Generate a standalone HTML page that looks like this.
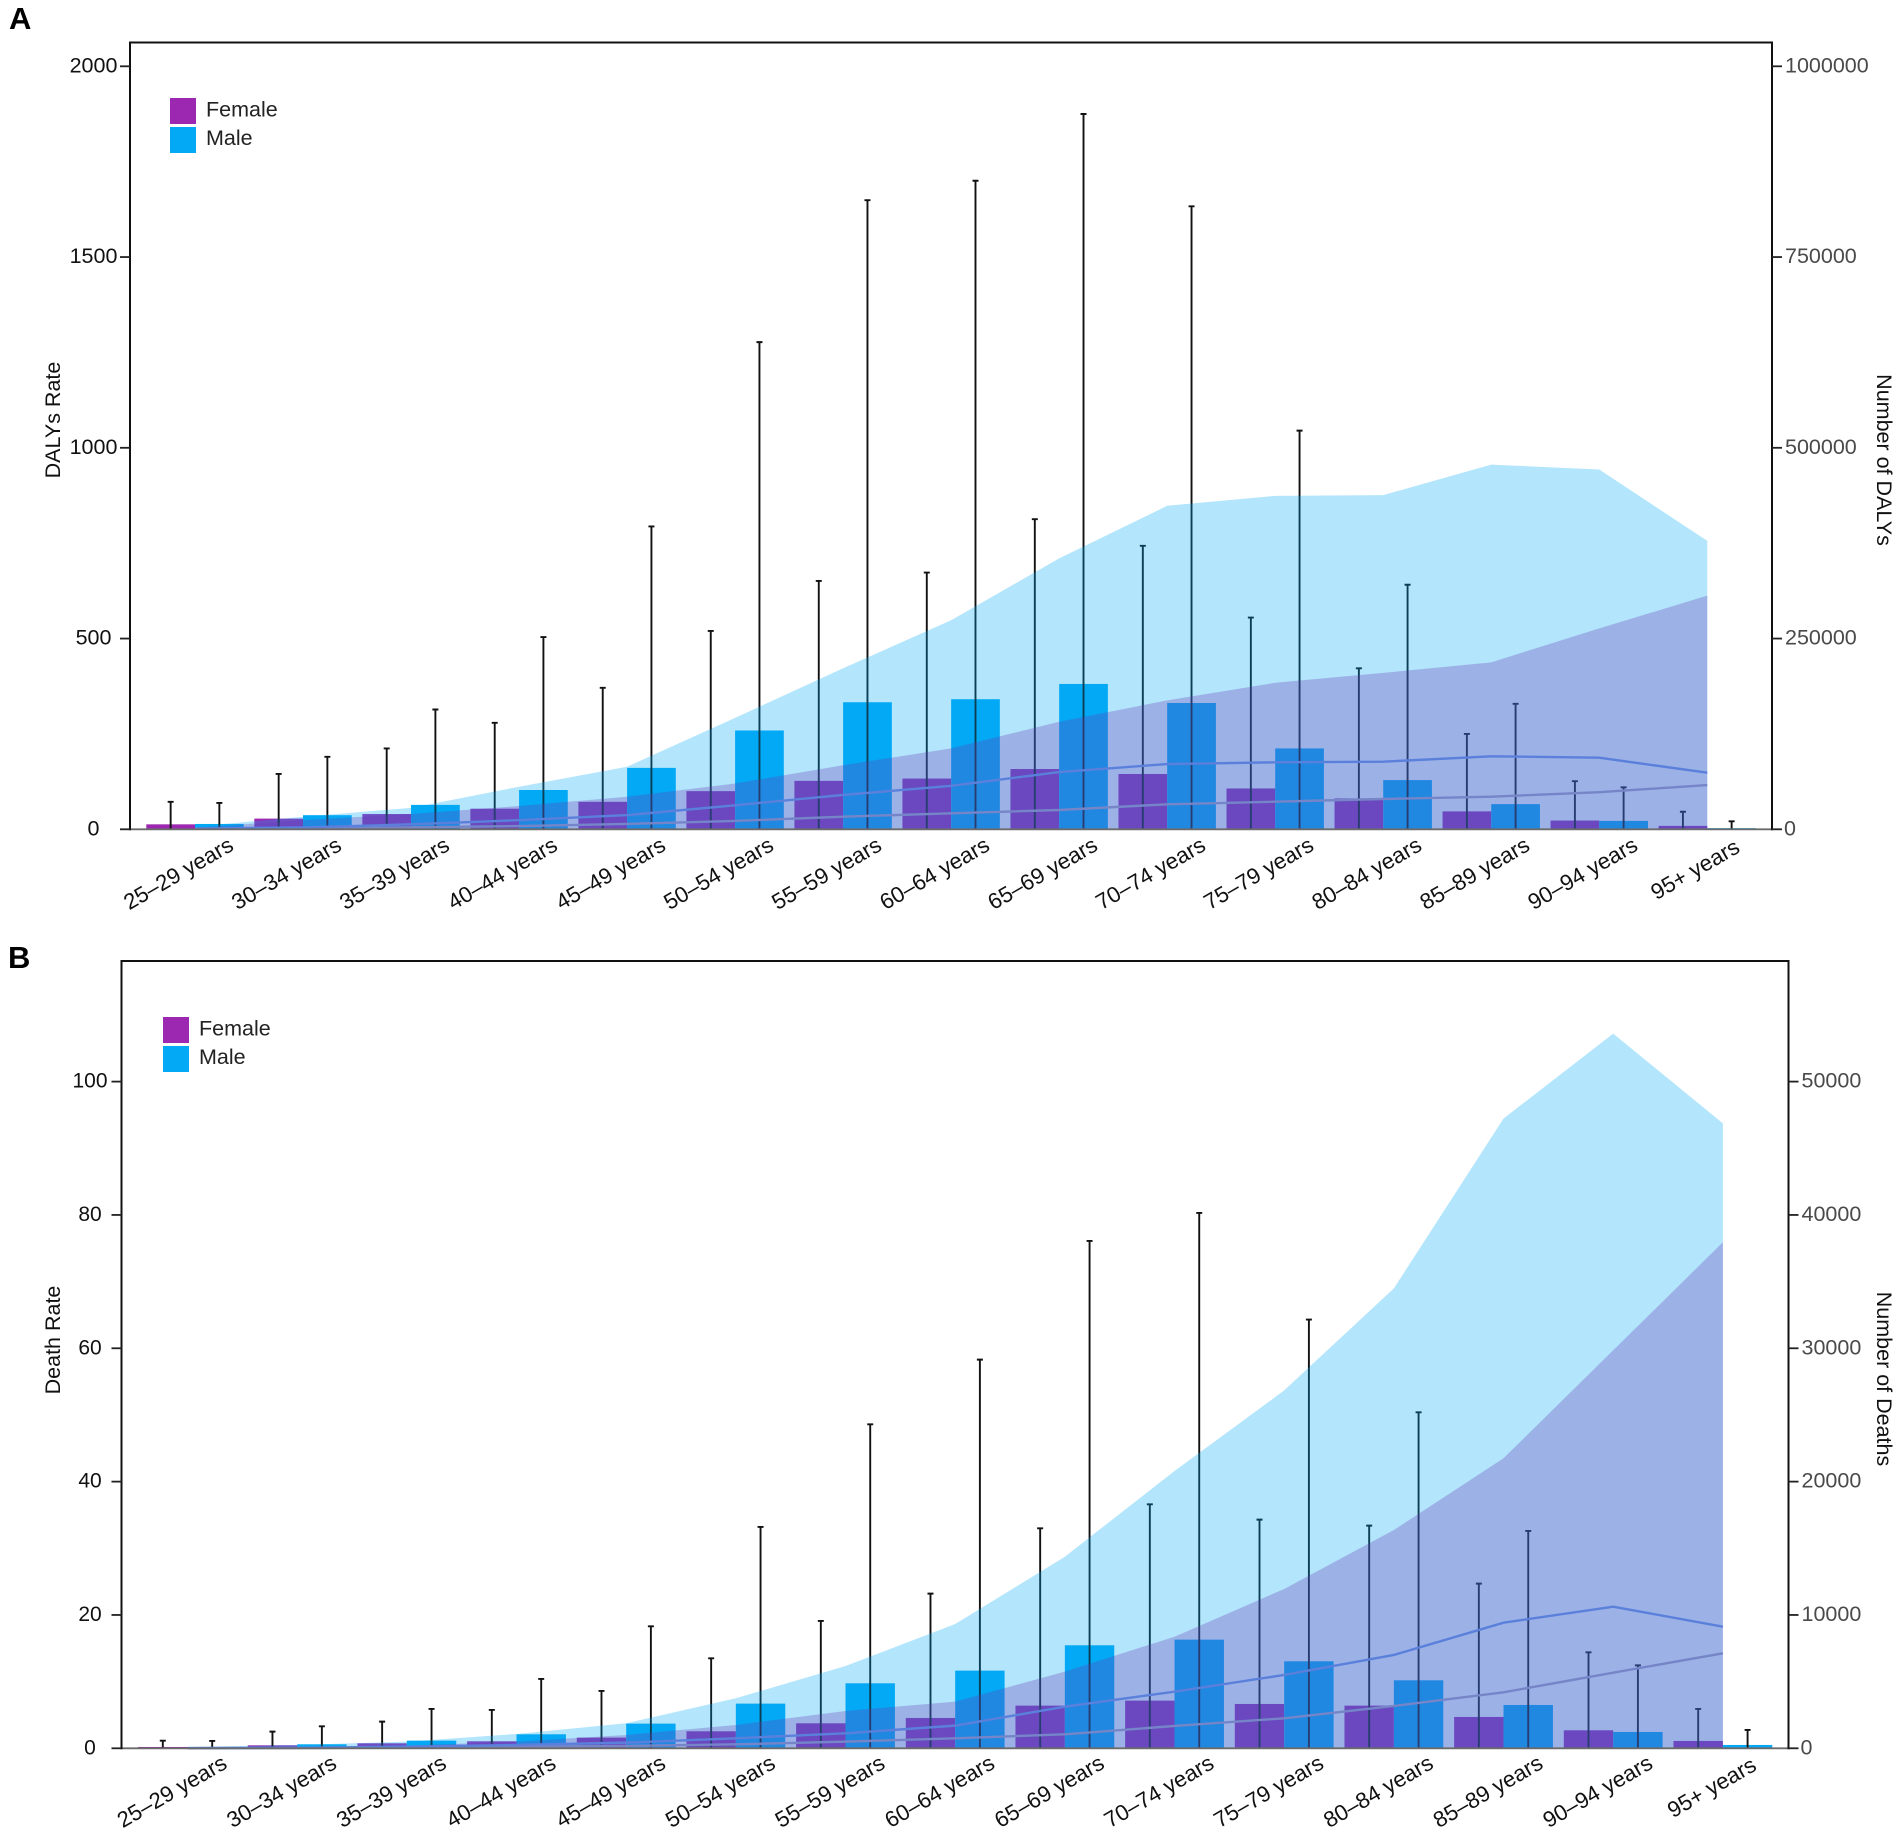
<!DOCTYPE html>
<html lang="en">
<head>
<meta charset="utf-8">
<title>DALYs and deaths by age group and sex</title>
<style>
  html, body { margin: 0; padding: 0; background: #fff; }
  body { width: 1902px; height: 1840px; overflow: hidden; }
  svg { display: block; font-family: "Liberation Sans", Arial, sans-serif; }
</style>
</head>
<body>
<svg id="figure" xmlns="http://www.w3.org/2000/svg" width="1902" height="1840" viewBox="0 0 1902 1840"></svg>
<script>
// ---- Shared categories ----
const ageGroups = ["25–29 years","30–34 years","35–39 years","40–44 years","45–49 years","50–54 years","55–59 years","60–64 years","65–69 years","70–74 years","75–79 years","80–84 years","85–89 years","90–94 years","95+ years"];
const legendLabels = ["Female","Male"];

// ---- Panel A: DALYs ----
const dalyLeftTicks = [0,500,1000,1500,2000];
const dalyRightTicks = [0,250000,500000,750000,1000000];
const dalyFemaleRate = [13,28,40,54,72,100,127,133,158,145,107,81,47,23,9];
const dalyMaleRate = [14,37,64,103,161,259,333,341,381,331,212,129,66,22,3];
const dalyFemaleUpper = [72,145,212,279,371,520,651,673,813,743,555,422,250,126,46];
const dalyMaleUpper = [69,190,314,504,794,1277,1649,1700,1875,1633,1045,641,329,110,21];
const dalyMaleArea = [3400,16500,28000,55800,82000,146000,211000,274000,355000,424000,437000,438000,478000,471500,378000];
const dalyFemaleArea = [2000,12000,20000,30500,42700,60000,84000,106000,141000,169000,192000,205000,218800,263300,306200];
const dalyMaleLine = [1000,2500,6500,12000,18600,31500,45000,57000,75000,85500,87800,88600,95700,93800,74200];
const dalyFemaleLine = [900,1500,2600,4300,7000,11000,16500,21000,25300,32800,36200,39700,42700,48600,58000];

// ---- Panel B: Deaths ----
const deathLeftTicks = [0,20,40,60,80,100];
const deathRightTicks = [0,10000,20000,30000,40000,50000];
const deathFemaleRate = [0.2,0.45,0.75,1.05,1.6,2.55,3.75,4.55,6.4,7.15,6.65,6.4,4.7,2.7,1.1];
const deathMaleRate = [0.2,0.6,1.15,2.1,3.7,6.7,9.75,11.65,15.45,16.3,13.05,10.2,6.5,2.45,0.5];
const deathFemaleUpper = [1.14,2.5,4,5.75,8.6,13.5,19.1,23.2,33,36.6,34.3,33.4,24.7,14.4,5.9];
const deathMaleUpper = [1.1,3.3,5.9,10.4,18.3,33.2,48.6,58.3,76.1,80.3,64.3,50.4,32.6,12.45,2.75];
const deathMaleArea = [100,250,500,1075,1875,3750,6170,9320,14370,20800,26840,34490,47230,53600,46870];
const deathFemaleArea = [30,90,200,500,1000,1750,2800,3500,5750,8370,11950,16370,21750,29850,37950];
const deathMaleLine = [15,40,120,250,425,750,1125,1700,3125,4250,5500,7000,9420,10620,9120];
const deathFemaleLine = [10,20,60,125,175,300,500,750,1050,1675,2250,3175,4200,5670,7125];

const NS = "http://www.w3.org/2000/svg";
const svg = document.getElementById("figure");

function make(tag, attrs, parent) {
  const node = document.createElementNS(NS, tag);
  for (const k in attrs) node.setAttribute(k, attrs[k]);
  parent.appendChild(node);
  return node;
}

function drawPanel(p) {
  const root = make("g", {}, svg);
  
  

  const yL = v => p.y0 - (v / p.leftMax) * (p.y0 - p.yTop);
  const yR = v => p.y0 - (v / p.rightMax) * (p.y0 - p.yTop);
  const xC = i => p.x0 + p.step * i;

  let el;

  // Panel letter
  el = make("text", {x: p.letterX, y: p.letterY, "font-size": 31, "font-weight": "bold", fill: "#000"}, root);
  el.textContent = p.letter;
  
  

  // Bars (underneath the translucent areas)
  ageGroups.forEach((g, i) => {
    el = make("rect", {x: xC(i) - p.barW, y: yL(p.femaleRate[i]), width: p.barW, height: p.y0 - yL(p.femaleRate[i]), fill: "#9c27b0"}, root);
    
    
    el = make("rect", {x: xC(i), y: yL(p.maleRate[i]), width: p.barW, height: p.y0 - yL(p.maleRate[i]), fill: "#03a9f4"}, root);
    
    
  });

  // Error bars
  ageGroups.forEach((g, i) => {
    [[xC(i) - p.barW / 2, p.femaleUpper[i], "female"], [xC(i) + p.barW / 2, p.maleUpper[i], "male"]].forEach(e => {
      el = make("path", {d: "M" + e[0] + " " + p.y0 + "V" + yL(e[1]) + "M" + (e[0] - 3) + " " + yL(e[1]) + "H" + (e[0] + 3), stroke: "#111", "stroke-width": 1.9, fill: "none"}, root);
      
      
    });
  });

  // Areas
  const areaPath = arr => "M" + xC(0) + " " + p.y0 + arr.map((v, i) => "L" + xC(i) + " " + yR(v)).join("") + "L" + xC(arr.length - 1) + " " + p.y0 + "Z";
  el = make("path", {d: areaPath(p.maleArea), fill: "#03a9f4", "fill-opacity": 0.3}, root);
  
  
  el = make("path", {d: areaPath(p.femaleArea), fill: "#673ab7", "fill-opacity": 0.3}, root);
  
  

  // Lines
  const linePath = arr => arr.map((v, i) => (i ? "L" : "M") + xC(i) + " " + yR(v)).join("");
  el = make("path", {d: linePath(p.femaleLine), fill: "none", stroke: "#7585c8", "stroke-width": 2.4}, root);
  
  
  el = make("path", {d: linePath(p.maleLine), fill: "none", stroke: "#5b80db", "stroke-width": 2.4}, root);
  
  

  // Baseline
  el = make("line", {x1: p.xL, x2: p.xR, y1: p.y0, y2: p.y0, stroke: "#6b6b6b", "stroke-width": 1.8}, root);
  
  

  // Frame: left, top and right sides
  el = make("path", {d: "M" + p.xL + " " + (p.y0 + 1) + "V" + p.frameTop + "H" + p.xR + "V" + (p.y0 + 1), fill: "none", stroke: "#111", "stroke-width": 2}, root);
  
  

  // Left ticks
  p.leftTicks.forEach(t => {
    el = make("line", {x1: p.xL - 10, x2: p.xL, y1: yL(t), y2: yL(t), stroke: "#222", "stroke-width": 1.8}, root);
    
    
    el = make("text", {x: p.leftLabelX, y: yL(t) + 6, "text-anchor": "middle", "font-size": p.leftFont, fill: "#111"}, root);
    el.textContent = t;
    
    
  });

  // Right ticks
  p.rightTicks.forEach(t => {
    el = make("line", {x1: p.xR, x2: p.xR + 10, y1: yR(t), y2: yR(t), stroke: "#222", "stroke-width": 1.8}, root);
    
    
    el = make("text", {x: p.xR + (t === 0 ? 12 : 13), y: yR(t) + 6, "font-size": 21.5, fill: "#4a4a4a"}, root);
    el.textContent = t;
    
    
  });

  // Category labels (the shorter final label sits slightly further in)
  ageGroups.forEach((g, i) => {
    const isShort = g.length < 11;
    const lx = xC(i) + p.labelDx - (isShort ? 6 : 0), ly = p.y0 + p.labelDy + (isShort ? 2 : 0);
    el = make("text", {x: lx, y: ly, "text-anchor": "end", "font-size": 22.2, fill: "#111", transform: "rotate(-30 " + lx + " " + ly + ")"}, root);
    el.textContent = g;
    
    
  });

  // Axis titles
  el = make("text", {x: 0, y: 0, "text-anchor": "middle", "font-size": 21.5, fill: "#111", transform: "translate(60 " + p.leftTitleY + ") rotate(-90)"}, root);
  el.textContent = p.leftTitle;
  
  
  el = make("text", {x: 0, y: 0, "text-anchor": "middle", "font-size": 21.5, fill: "#111", transform: "translate(1877 " + p.rightTitleY + ") rotate(90)"}, root);
  el.textContent = p.rightTitle;
  
  

  // Legend
  el = make("rect", {x: p.legendX, y: p.legendY, width: 26, height: 26, fill: "#9c27b0"}, root);
  
  
  el = make("rect", {x: p.legendX, y: p.legendY + 29, width: 26, height: 26, fill: "#03a9f4"}, root);
  
  
  el = make("text", {x: p.legendX + 36, y: p.legendY + 18.5, "font-size": 21.5, fill: "#222"}, root);
  el.textContent = legendLabels[0];
  
  
  el = make("text", {x: p.legendX + 36, y: p.legendY + 47, "font-size": 21.5, fill: "#222"}, root);
  el.textContent = legendLabels[1];
  
  
}

drawPanel({
  id: "dalys", letter: "A", letterX: 9, letterY: 29,
  xL: 130, xR: 1772, frameTop: 42.5, yTop: 66.3, y0: 829.3,
  x0: 195, step: 108.02, barW: 48.7,
  leftMax: 2000, rightMax: 1000000,
  leftTicks: dalyLeftTicks, rightTicks: dalyRightTicks,
  femaleRate: dalyFemaleRate, maleRate: dalyMaleRate,
  femaleUpper: dalyFemaleUpper, maleUpper: dalyMaleUpper,
  maleArea: dalyMaleArea, femaleArea: dalyFemaleArea,
  maleLine: dalyMaleLine, femaleLine: dalyFemaleLine,
  leftLabelX: 93.5, leftFont: 21.5,
  labelDx: 40, labelDy: 20,
  leftTitle: "DALYs Rate", leftTitleY: 420,
  rightTitle: "Number of DALYs", rightTitleY: 460,
  legendX: 170, legendY: 98
});

drawPanel({
  id: "deaths", letter: "B", letterX: 8, letterY: 968,
  xL: 121.5, xR: 1788.5, frameTop: 961, yTop: 1081.6, y0: 1748.3,
  x0: 187.5, step: 109.67, barW: 49.4,
  leftMax: 100, rightMax: 50000,
  leftTicks: deathLeftTicks, rightTicks: deathRightTicks,
  femaleRate: deathFemaleRate, maleRate: deathMaleRate,
  femaleUpper: deathFemaleUpper, maleUpper: deathMaleUpper,
  maleArea: deathMaleArea, femaleArea: deathFemaleArea,
  maleLine: deathMaleLine, femaleLine: deathFemaleLine,
  leftLabelX: 90, leftFont: 21,
  labelDx: 41, labelDy: 19,
  leftTitle: "Death Rate", leftTitleY: 1340,
  rightTitle: "Number of Deaths", rightTitleY: 1379,
  legendX: 163, legendY: 1017
});
</script>
</body>
</html>
